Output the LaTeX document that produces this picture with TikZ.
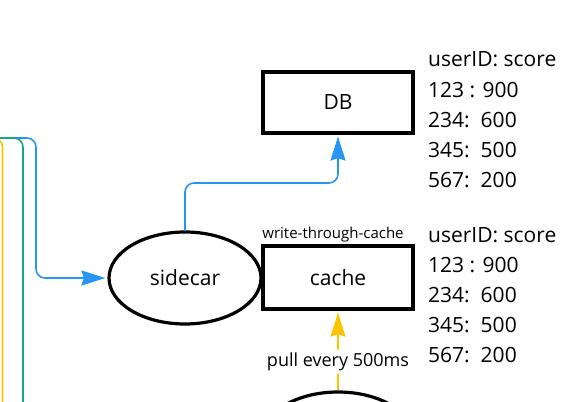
\documentclass[tikz,border=0pt]{standalone}
\usepackage{fontspec}
\setmainfont{Open Sans}
\usetikzlibrary{shapes.geometric,arrows.meta}
\definecolor{cblue}{RGB}{40,150,240}
\definecolor{cyellow}{RGB}{255,196,0}
\definecolor{cgreen}{RGB}{22,168,130}
\tikzset{
  box/.style={draw=black,line width=3.2pt,rectangle,minimum width=150pt,minimum height=61pt,inner sep=0pt,font=\fontsize{21}{24}\selectfont},
  oval/.style={draw=black,line width=3.2pt,ellipse,minimum width=152pt,minimum height=92pt,inner sep=0pt,font=\fontsize{21}{24}\selectfont},
  conn/.style={line width=1.6pt,rounded corners=9pt},
  tip/.style={-{Stealth[length=24pt,width=15pt,inset=2.5pt]},shorten >=2pt},
  row/.style={anchor=base west,inner sep=0pt,font=\fontsize{21}{30}\selectfont},
  small/.style={font=\fontsize{15}{17}\selectfont,inner sep=0pt},
  lbl/.style={font=\fontsize{18}{20}\selectfont,fill=white,text=black,inner sep=3pt}
}
\begin{document}
\begin{tikzpicture}[x=1pt,y=-1pt]
\useasboundingbox (0,0) rectangle (585,401);
\clip (0,0) rectangle (585,401);
\node[box] (db) at (338,102.5) {DB};
\node[box,minimum height=63pt] (cache) at (338,277.5) {cache};
\node[oval] (sidecar) at (185,278) {sidecar};
\node[oval] (bottom) at (338,438) {};
\node[small] (wtc) at (333,235) {write-through-cache};
\coordinate (jdb) at (338,183);
\coordinate (bs) at (-20,138);
\coordinate (bv) at (36,278);
\coordinate (gs) at (-20,138);
\coordinate (ge) at (23,420);
\coordinate (ys) at (-30,138);
\coordinate (ye) at (2.5,420);
\draw[conn,cblue,tip] (sidecar.north) |- (jdb) -- (db.south);
\draw[conn,cblue,tip] (bs) -| (bv) -- (sidecar.west);
\draw[conn,cgreen] (gs) -| (ge);
\draw[conn,cyellow] (ys) -| (ye);
\draw[conn,cyellow,tip] (bottom.north) -- node[lbl,pos=0.36] {pull every 500ms} (cache.south);
\foreach \base/\tag in {67/a,242/b}{
  \node[row] (\tag1) at (428,\base) {userID: score};
  \node[row] (\tag2) at (428,\base+30) {123 : 900};
  \node[row] (\tag3) at (428,\base+60) {234:\ \ 600};
  \node[row] (\tag4) at (428,\base+90) {345:\ \ 500};
  \node[row] (\tag5) at (428,\base+120) {567:\ \ 200};
}
\end{tikzpicture}
\end{document}
